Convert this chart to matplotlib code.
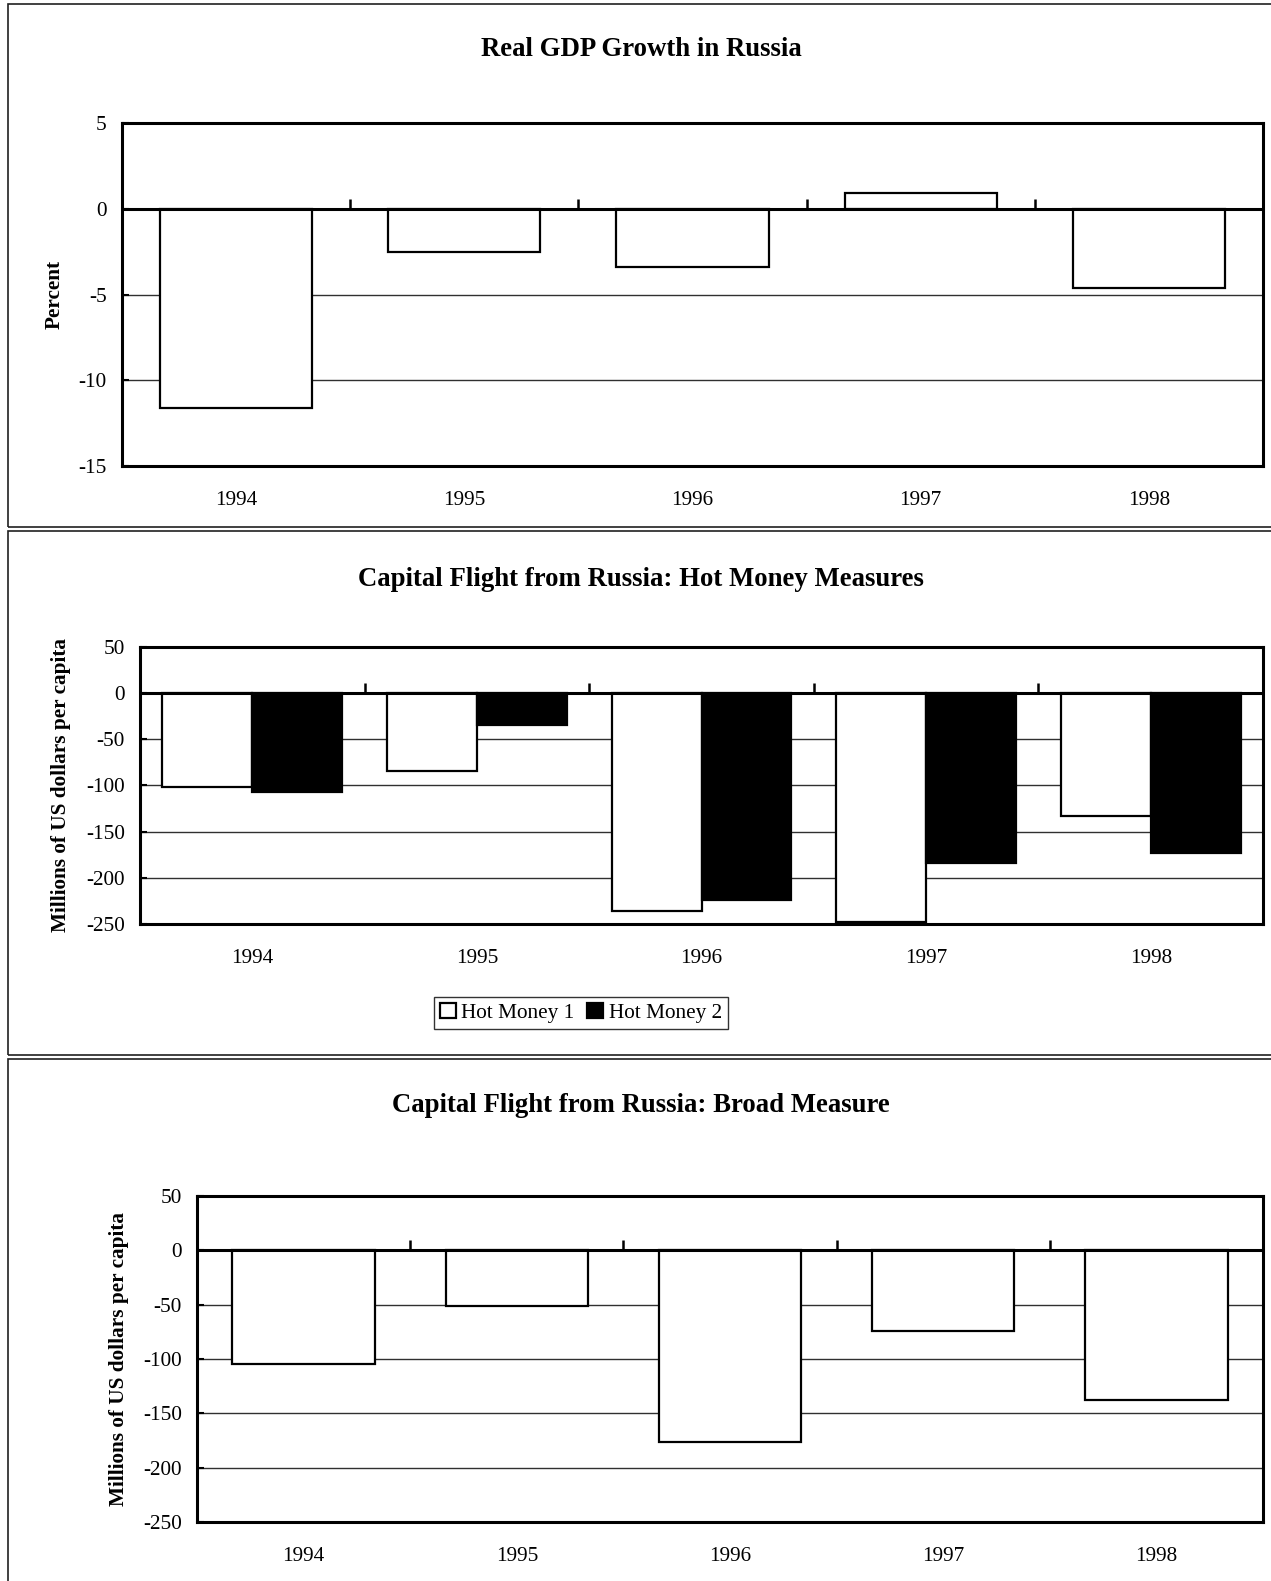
import matplotlib
matplotlib.use("Agg")
import matplotlib.pyplot as plt
from matplotlib.patches import Rectangle
import numpy as np

plt.rcParams['font.family'] = ['Liberation Serif', 'DejaVu Serif']

years = ['1994', '1995', '1996', '1997', '1998']
gdp_growth = [-11.6, -2.5, -3.4, 0.9, -4.6]
hot_money_1 = [-102, -84, -236, -248, -133]
hot_money_2 = [-107, -35, -224, -184, -173]
broad_measure = [-105, -51, -176, -74, -138]

W, H = 1271, 1581
fig = plt.figure(figsize=(W / 100, H / 100), dpi=100)

TICK_FS = 15.3
TITLE_FS = 19.3


def fx(px):
    return px / W


def fy(py):
    return 1 - py / H


# panel borders
for top, bot in [(4, 527), (531, 1055), (1059, 1600)]:
    fig.patches.append(Rectangle((fx(8), fy(bot)), fx(1300 - 8), fy(top) - fy(bot),
                                 transform=fig.transFigure, fill=False,
                                 edgecolor='#202020', lw=1.2))


def style_axes(ax, ylim, yticks, ylabel, label_x):
    ax.set_xlim(-0.5, len(years) - 0.5)
    ax.set_ylim(*ylim)
    ax.set_yticks(yticks)
    ax.set_yticklabels([str(t) for t in yticks])
    ax.set_xticks(np.arange(len(years)))
    ax.set_xticklabels(years)
    ax.tick_params(axis='x', length=0, pad=18, labelsize=TICK_FS)
    ax.tick_params(axis='y', direction='in', length=5, width=1.5, pad=11, labelsize=TICK_FS)
    for s in ax.spines.values():
        s.set_linewidth(2.2)
        s.set_color('black')
    ax.grid(axis='y', color='#303030', lw=1.0)
    ax.set_axisbelow(True)
    ax.axhline(0, color='black', lw=2.2, zorder=4)
    bounds = np.arange(len(years) - 1) + 0.5
    ax.plot(bounds, np.zeros_like(bounds), linestyle='none', marker=2,
            markersize=7, mew=1.8, color='black', zorder=5)
    pos = ax.get_position()
    fig.text(label_x, pos.y0 + pos.height / 2, ylabel, rotation=90, ha='center',
             va='center', fontsize=TICK_FS, fontweight='bold')


x = np.arange(len(years))

# Panel 1
ax1 = fig.add_axes([fx(122), fy(466), fx(1263 - 122), fy(123) - fy(466)])
ax1.bar(x, gdp_growth, width=0.667, color='white', edgecolor='black', lw=1.6, zorder=3)
style_axes(ax1, (-15, 5), [5, 0, -5, -10, -15], 'Percent', fx(55))
fig.text(fx(641), fy(49), 'Real GDP Growth in Russia', ha='center', va='center',
         fontsize=TITLE_FS, fontweight='bold')

# Panel 2
ax2 = fig.add_axes([fx(140), fy(924), fx(1263 - 140), fy(647) - fy(924)])
b1 = ax2.bar(x - 0.2, hot_money_1, width=0.4, color='white', edgecolor='black', lw=1.6,
             zorder=3, label='Hot Money 1')
b2 = ax2.bar(x + 0.2, hot_money_2, width=0.4, color='black', edgecolor='black', lw=1.6,
             zorder=3, label='Hot Money 2')
style_axes(ax2, (-250, 50), [50, 0, -50, -100, -150, -200, -250],
           'Millions of US dollars per capita', fx(61))
fig.text(fx(641), fy(579), 'Capital Flight from Russia: Hot Money Measures',
         ha='center', va='center', fontsize=TITLE_FS, fontweight='bold')
leg = fig.legend(handles=[b1, b2], loc='center', bbox_to_anchor=(fx(581), fy(1013)),
                 ncol=2, fontsize=TICK_FS, frameon=True, fancybox=False, shadow=False,
                 handlelength=0.75, handleheight=0.75, handletextpad=0.25,
                 columnspacing=0.6, borderpad=0.3, borderaxespad=0)
leg.get_frame().set_edgecolor('black')
leg.get_frame().set_linewidth(1.0)

# Panel 3
ax3 = fig.add_axes([fx(197), fy(1522), fx(1263 - 197), fy(1196) - fy(1522)])
ax3.bar(x, broad_measure, width=0.667, color='white', edgecolor='black', lw=1.6, zorder=3)
style_axes(ax3, (-250, 50), [50, 0, -50, -100, -150, -200, -250],
           'Millions of US dollars per capita', fx(119))
fig.text(fx(641), fy(1106), 'Capital Flight from Russia: Broad Measure',
         ha='center', va='center', fontsize=TITLE_FS, fontweight='bold')

fig.savefig('out.png', dpi=100)
